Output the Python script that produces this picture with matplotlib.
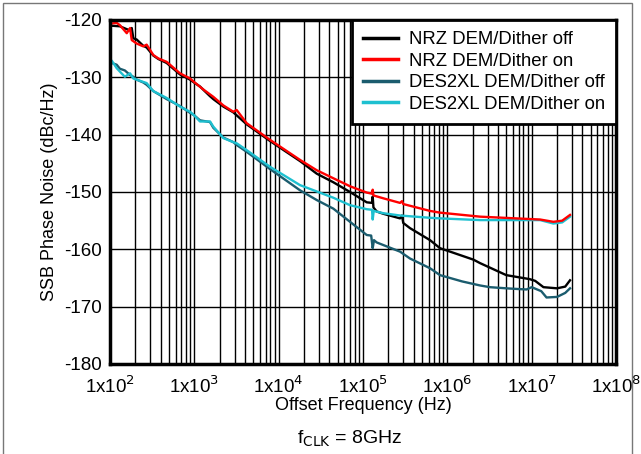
import matplotlib
matplotlib.use('Agg')
import matplotlib.pyplot as plt
from matplotlib.patches import Rectangle
from matplotlib.ticker import FixedLocator, LogLocator, NullFormatter

plt.rcParams['font.family'] = ['Liberation Sans', 'DejaVu Sans']
plt.rcParams['axes.unicode_minus'] = False

# offset frequency in Hz, phase noise in dBc/Hz
f_nrz_off = [100, 105, 131, 158, 173, 181, 189, 207, 248, 272, 326, 374, 470, 676, 889,
             991, 1167, 1535, 1679, 2208, 2897, 4178, 7889, 17900, 28250, 44460, 70150,
             110700, 128000, 130300, 133000, 145500, 174200, 274800, 290000, 300000, 360600,
             623700, 818500, 2.04e6, 2.44e6, 5.0e6, 9.5e6, 1.1e7, 1.38e7, 2.0e7, 2.5e7, 2.85e7]
pn_nrz_off = [-121.0, -121.0, -121.1, -121.6, -121.8, -121.4, -123.2, -123.4, -124.5, -124.8,
              -126.2, -126.8, -127.5, -129.5, -130.4, -130.9, -131.6, -133.3, -133.8, -135.1,
              -136.1, -138.2, -141.1, -144.6, -146.8, -148.3, -150.0, -151.8, -151.9, -150.8,
              -152.7, -153.4, -153.8, -154.6, -154.1, -155.4, -156.3, -158.4, -159.8, -161.8,
              -162.4, -164.5, -165.2, -165.5, -166.6, -166.8, -166.5, -165.4]

f_nrz_on = [100, 105, 120, 131, 158, 173, 181, 207, 248, 272, 326, 374, 470, 676, 889, 991,
            1300, 1679, 2208, 2897, 3177, 4178, 7889, 17900, 28250, 44460, 70150, 110700,
            128000, 130300, 133000, 174200, 274800, 290000, 300000, 623700, 818500, 2.44e6,
            1.26e7, 1.81e7, 2.3e7, 2.85e7]
pn_nrz_on = [-120.5, -120.6, -120.5, -120.9, -122.3, -121.4, -123.5, -124.1, -124.6, -124.3,
             -126.1, -126.7, -127.3, -129.3, -130.2, -130.8, -132.2, -133.4, -134.9, -136.0,
             -135.7, -138.0, -140.9, -144.4, -146.2, -147.6, -149.0, -150.1, -150.3, -149.6,
             -150.6, -151.1, -151.9, -151.6, -152.1, -153.3, -153.6, -154.3, -154.8, -155.2,
             -155.0, -154.0]

f_des_off = [100, 105, 120, 131, 150, 173, 189, 207, 248, 272, 326, 392, 470, 676, 889, 991,
             1167, 1535, 1679, 2208, 2897, 3177, 4178, 7889, 17900, 28250, 44460, 70150,
             110700, 125000, 130300, 135000, 145500, 274800, 360600, 623700, 818500, 1.5e6,
             2.44e6, 3.2e6, 5.0e6, 6.5e6, 8.7e6, 1.0e7, 1.3e7, 1.5e7, 2.0e7, 2.5e7, 2.85e7]
pn_des_off = [-127.3, -127.5, -127.8, -128.5, -128.8, -129.6, -129.9, -130.4, -130.9, -131.3,
              -132.4, -133.1, -133.8, -135.0, -136.2, -136.6, -137.5, -137.8, -138.8, -140.5,
              -141.3, -141.8, -143.0, -146.0, -149.7, -151.4, -152.9, -155.2, -157.5, -157.6,
              -159.8, -158.4, -158.8, -160.4, -161.6, -163.3, -164.5, -165.6, -166.3, -166.6,
              -166.8, -166.9, -167.0, -166.6, -167.3, -168.4, -168.3, -167.6, -166.8]

f_des_on = [100, 105, 120, 131, 150, 173, 189, 207, 248, 272, 326, 392, 470, 676, 889, 991,
            1167, 1535, 1679, 2208, 2897, 3177, 4178, 7889, 17900, 28250, 44460, 70150,
            110700, 128000, 130300, 134000, 174200, 274800, 623700, 818500, 2.44e6, 1.26e7,
            1.81e7, 2.3e7, 2.85e7]
pn_des_on = [-127.0, -127.1, -128.4, -129.0, -129.9, -129.3, -130.2, -130.4, -130.8, -131.0,
             -132.4, -133.0, -133.6, -135.1, -136.0, -136.6, -137.7, -137.7, -138.6, -140.6,
             -141.3, -141.5, -142.7, -145.6, -148.8, -149.9, -151.0, -152.3, -153.0, -153.1,
             -154.8, -153.3, -153.7, -154.1, -154.5, -154.6, -154.9, -154.9, -155.5, -155.3,
             -154.3]

series = [
    ('NRZ DEM/Dither off', f_nrz_off, pn_nrz_off, '#000000'),
    ('NRZ DEM/Dither on', f_nrz_on, pn_nrz_on, '#ff0000'),
    ('DES2XL DEM/Dither off', f_des_off, pn_des_off, '#1b5c6e'),
    ('DES2XL DEM/Dither on', f_des_on, pn_des_on, '#1ec0d0'),
]

x_ticks = [1e2, 1e3, 1e4, 1e5, 1e6, 1e7, 1e8]
x_ticklabels = [r'1x10$^{%d}$' % e for e in range(2, 9)]
y_ticks = [-180, -170, -160, -150, -140, -130, -120]

fig = plt.figure(figsize=(6.41, 4.54), dpi=100)
ax = fig.add_axes([110 / 641, 90 / 454, 506 / 641, 344 / 454])

# draw in order so the "off" traces sit under the "on" traces like the original
for name, f, pn, c in [series[0], series[2], series[3], series[1]]:
    ax.plot(f, pn, color=c, lw=1.7, label=name, solid_joinstyle='round')

ax.set_xscale('log')
ax.set_xlim(1e2, 1e8)
ax.set_ylim(-180, -120)
ax.xaxis.set_major_locator(FixedLocator(x_ticks))
ax.set_xticklabels(x_ticklabels)
ax.xaxis.set_minor_locator(LogLocator(base=10, subs=range(2, 10), numticks=20))
ax.xaxis.set_minor_formatter(NullFormatter())
ax.set_yticks(y_ticks)
ax.tick_params(which='both', length=0, labelsize=13.5)
ax.tick_params(axis='x', pad=8)
ax.tick_params(axis='y', pad=6)

ax.grid(True, which='major', color='black', lw=1.0)
ax.grid(True, which='minor', axis='x', color='black', lw=1.0)
ax.set_axisbelow(True)
for s in ax.spines.values():
    s.set_linewidth(2.5)

ax.set_xlabel('Offset Frequency (Hz)', fontsize=13, labelpad=0)
ax.set_ylabel('SSB Phase Noise (dBc/Hz)', fontsize=13, labelpad=4)

handles, labels = ax.get_legend_handles_labels()
order = [labels.index(s[0]) for s in series]
leg = ax.legend([handles[i] for i in order], [labels[i] for i in order],
                loc='upper right', fontsize=13.3, frameon=True, fancybox=False,
                framealpha=1, borderaxespad=0, handlelength=1.9, labelspacing=0.25,
                handletextpad=0.6, borderpad=0.6)
leg.get_frame().set_edgecolor('black')
leg.get_frame().set_linewidth(2)
for line in leg.get_lines():
    line.set_linewidth(2.5)

fig.text(0.545, 0.022, r'f$_{\mathrm{CLK}}$ = 8GHz', ha='center', va='baseline', fontsize=14)

fig.patches.append(Rectangle((3 / 641, -0.02), 629 / 641, 1.02 - 3 / 454, transform=fig.transFigure,
                             fill=False, edgecolor='#777777', lw=1, clip_on=False))

fig.savefig('out.png', dpi=100)
